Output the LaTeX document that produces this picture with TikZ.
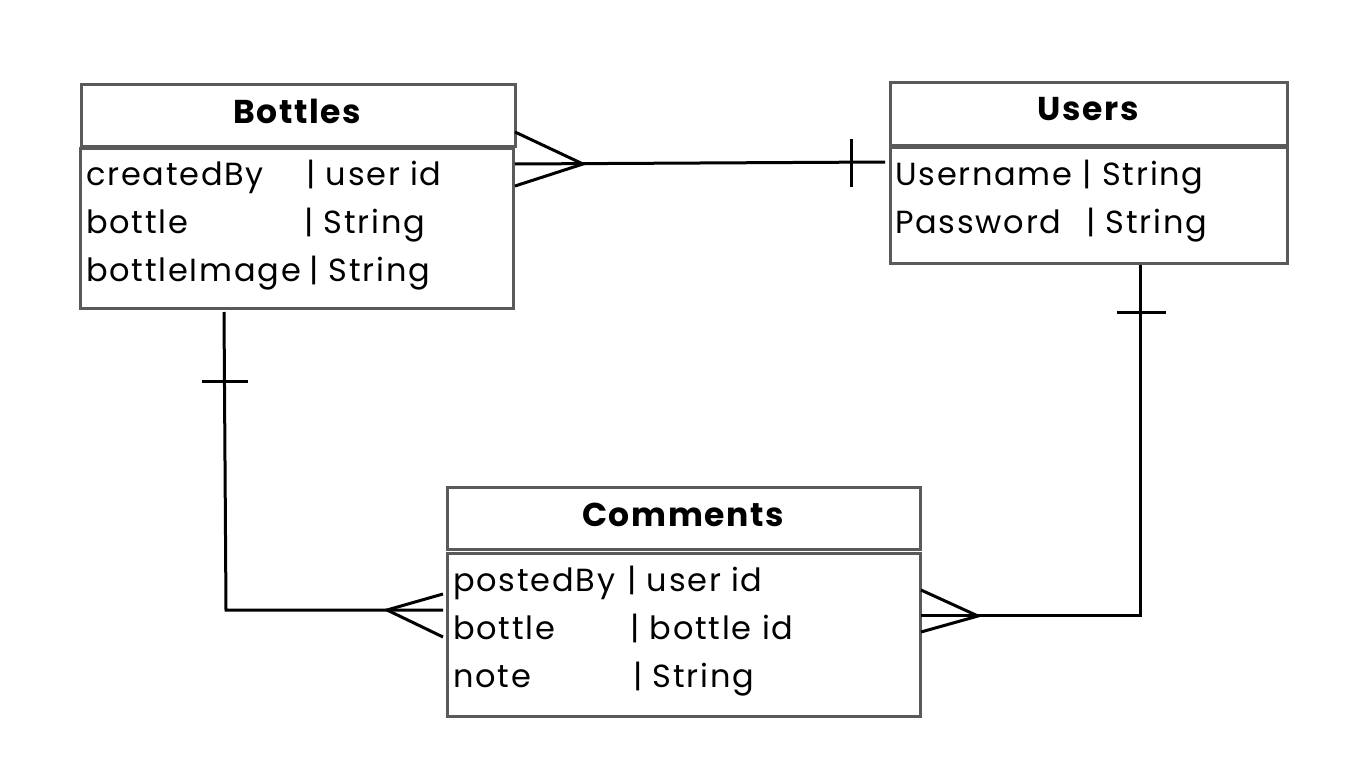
\documentclass[tikz,border=0pt]{standalone}
\usepackage{fontspec}
\setmainfont{Poppins}
\newfontfamily\rowfont[LetterSpace=5.5]{Poppins}
\newfontfamily\hdrfont[LetterSpace=5]{Poppins Bold}
\definecolor{boxgray}{HTML}{5A5A5A}
\begin{document}
\begin{tikzpicture}[x=1pt,y=-1pt,
  box/.style={draw=boxgray,line width=3pt,fill=white,inner sep=0pt,anchor=north west},
  hdrtext/.style={font=\hdrfont\fontsize{33}{36}\selectfont,inner sep=0pt},
  row/.style={font=\rowfont\fontsize{32}{36}\selectfont,inner sep=0pt,anchor=base west},
  conn/.style={draw=black,line width=3pt},
  bar/.style={draw=black,line width=3pt}]
\useasboundingbox[fill=white] (0,0) rectangle (1366,768);
% Bottles
\node[box,minimum width=434,minimum height=62] (bh) at (80,83) {};
\node[box,minimum width=433,minimum height=160] (bb) at (79,147) {};
\node[hdrtext] (bt) at (297,111) {Bottles};
\node[row] (b1) at (86,185) {\makebox[220pt][l]{createdBy}| user id};
\node[row] (b2) at (86,233) {\makebox[218pt][l]{bottle}| String};
\node[row] (b3) at (86,281) {\makebox[223pt][l]{bottleImage}| String};
% Users
\node[box,minimum width=397,minimum height=63] (uh) at (889,81) {};
\node[box,minimum width=397,minimum height=116] (ub) at (889,146) {};
\node[hdrtext] (ut) at (1088,109) {Users};
\node[row] (u1) at (895,185) {Username | String};
\node[row] (u2) at (895,233) {\makebox[191pt][l]{Password}| String};
% Comments
\node[box,minimum width=473,minimum height=62] (ch) at (446,486) {};
\node[box,minimum width=473,minimum height=163] (cb) at (446,552) {};
\node[hdrtext] (ct) at (683,515) {Comments};
\node[row] (c1) at (453,591) {\makebox[174pt][l]{postedBy}| user id};
\node[row] (c2) at (453,639) {\makebox[177pt][l]{bottle}| bottle id};
\node[row] (c3) at (453,687) {\makebox[180pt][l]{note}| String};
% connector coordinates
\coordinate (bu1) at (515,164);
\coordinate (bu2) at (885,162);
\coordinate (buapex) at (583,164);
\coordinate (bc1) at (224,312);
\coordinate (bccorner) at (226,610);
\coordinate (bc2) at (443,610);
\coordinate (bcapex) at (387,610);
\coordinate (uc1) at (1140,265);
\coordinate (uccorner) at (1140,615);
\coordinate (uc2) at (921,615);
\coordinate (ucapex) at (978,616);
% Bottles -- Users
\draw[conn] (bu1) -- (bu2);
\draw[conn] (515,132) -- (buapex) -- (515,186);
\draw[bar] (851,139) -- (851,187);
% Bottles -- Comments
\draw[conn] (bc1) -- (bccorner) -- (bc2);
\draw[conn] (443,594) -- (bcapex) -- (443,637);
\draw[bar] (202,381) -- (248,381);
% Users -- Comments
\draw[conn] (uc1) -- (uccorner) -- (uc2);
\draw[conn] (921,590) -- (ucapex) -- (921,632);
\draw[bar] (1117,312) -- (1166,312);
\end{tikzpicture}
\end{document}
